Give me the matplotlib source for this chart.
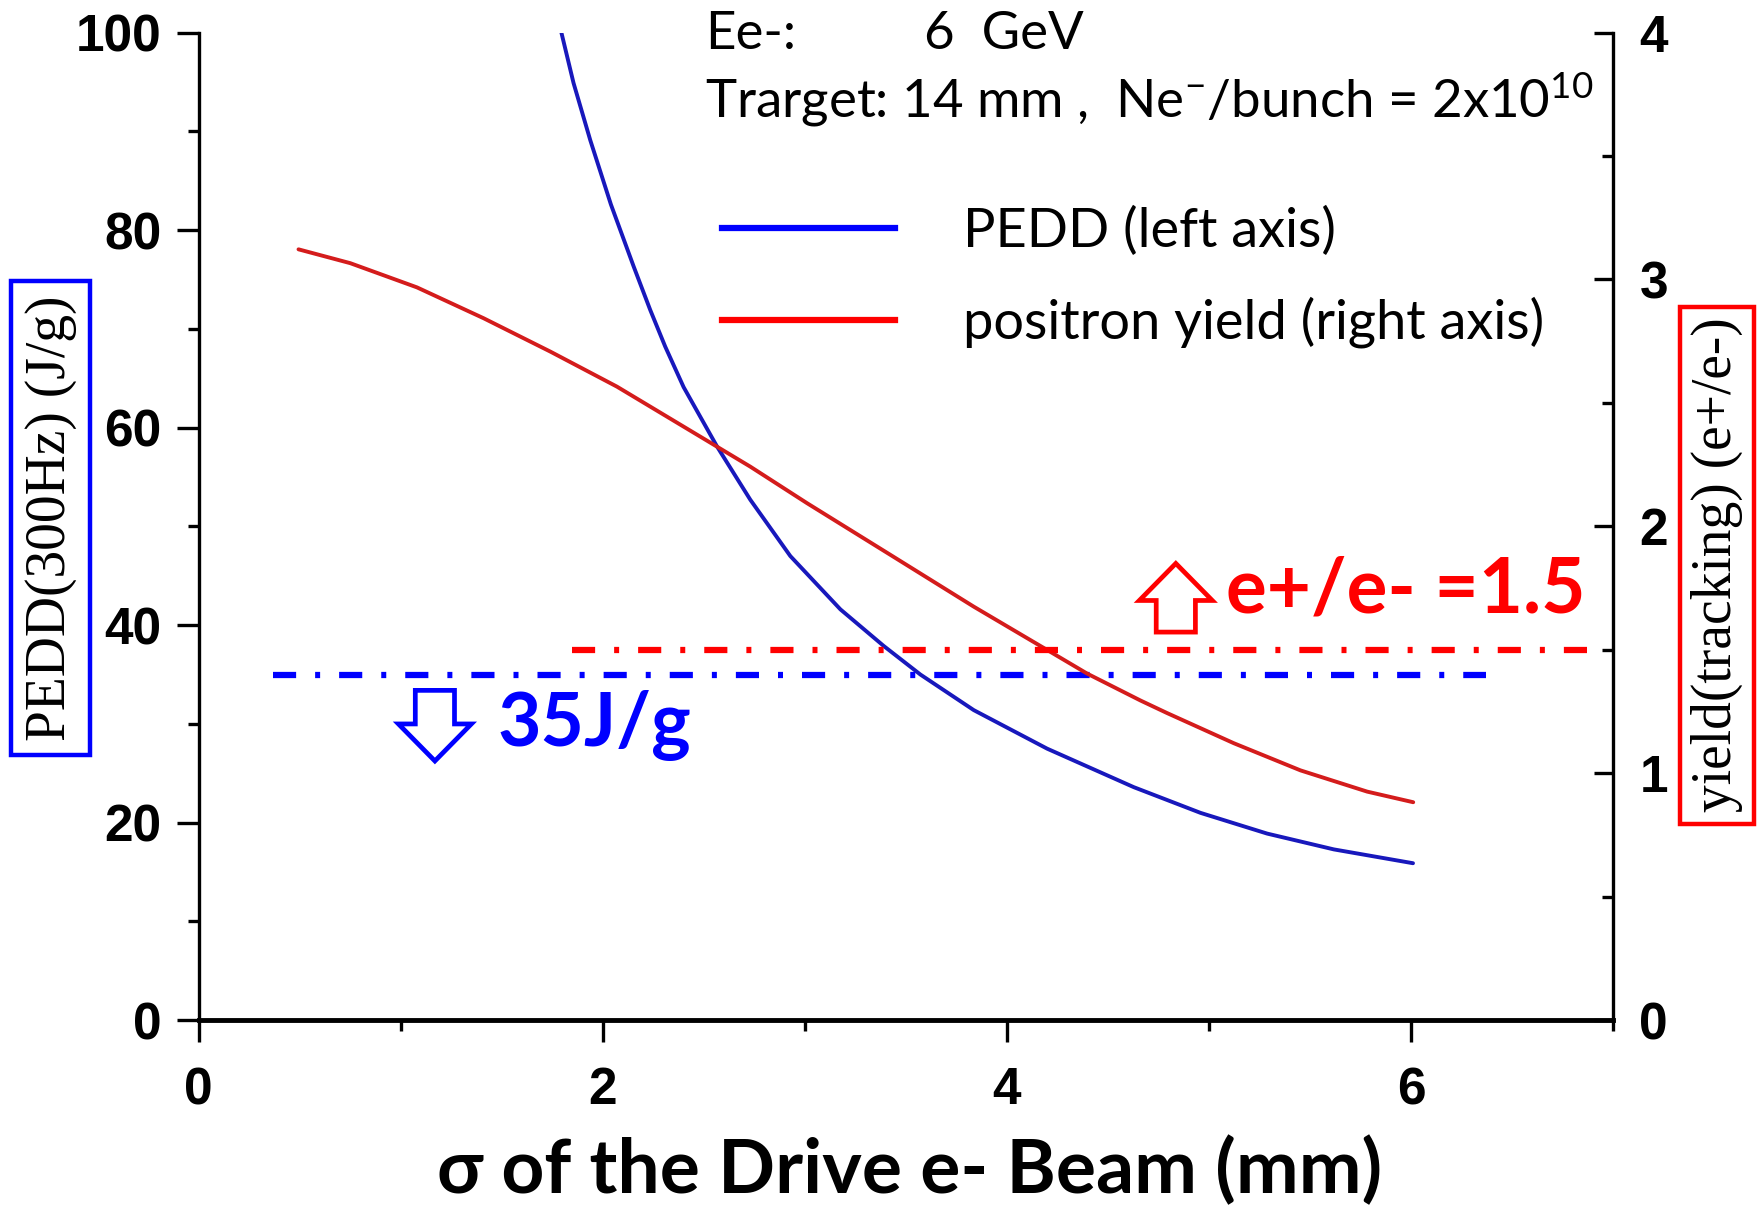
import matplotlib.pyplot as plt
from matplotlib import font_manager
from matplotlib.patches import FancyArrow
from matplotlib.lines import Line2D

# PEDD (left axis) vs beam sigma
sigma_pedd = [1.795, 1.855, 1.938, 2.04, 2.153, 2.235, 2.309, 2.40, 2.565, 2.73,
              2.928, 3.176, 3.39, 3.572, 3.836, 4.199, 4.628, 4.958, 5.288, 5.618, 6.01]
pedd = [100.0, 94.9, 89.1, 82.6, 76.3, 71.9, 68.2, 64.1, 58.1, 52.7,
        47.0, 41.6, 37.9, 35.0, 31.4, 27.5, 23.6, 21.0, 18.9, 17.3, 15.9]

# positron yield (right axis) vs beam sigma
sigma_yield = [0.494, 0.75, 1.08, 1.41, 1.74, 2.07, 2.40, 2.565, 2.73, 3.011,
               3.423, 3.836, 4.182, 4.397, 4.661, 4.793, 5.123, 5.453, 5.783, 6.011]
pos_yield = [3.122, 3.066, 2.968, 2.843, 2.708, 2.566, 2.404, 2.323, 2.242, 2.094,
             1.885, 1.675, 1.508, 1.404, 1.295, 1.244, 1.122, 1.012, 0.926, 0.883]

# limits
pedd_limit = 35
pedd_limit_x = [0.37, 6.37]
yield_limit = 1.5
yield_limit_x = [1.85, 6.88]

x_ticks = [0, 2, 4, 6]
x_minor = [1, 3, 5, 7]
left_ticks = [0, 20, 40, 60, 80, 100]
left_minor = [10, 30, 50, 70, 90]
right_ticks = [0, 1, 2, 3, 4]
right_minor = [0.5, 1.5, 2.5, 3.5]

names = {f.name for f in font_manager.fontManager.ttflist}
tick_font = 'Liberation Sans' if 'Liberation Sans' in names else 'DejaVu Sans'
cal = ['Lato', 'DejaVu Sans']
serif = 'Liberation Serif'

plt.rcParams['mathtext.fontset'] = 'custom'
plt.rcParams['mathtext.rm'] = 'Lato'
plt.rcParams['mathtext.it'] = 'Lato:italic'
plt.rcParams['mathtext.bf'] = 'Lato:bold'

BLUE_LINE = '#1818bc'
RED_LINE = '#d41c1c'
BLUE = '#0000ff'
RED = '#ff0000'

fig = plt.figure(figsize=(17.6, 12.09), dpi=100)
ax = fig.add_axes([0.1129, 0.1561, 0.8036, 0.8170])
ax2 = ax.twinx()

ax.set_xlim(0, 7)
ax.set_ylim(0, 100)
ax2.set_ylim(0, 4)

ax.plot(sigma_pedd, pedd, color=BLUE_LINE, lw=2.8, solid_capstyle='round')
ax2.plot(sigma_yield, pos_yield, color=RED_LINE, lw=2.8, solid_capstyle='round')

dash = (0, (3.7, 3.04, 0.8, 3.04))
ax.plot(pedd_limit_x, [pedd_limit, pedd_limit], color=BLUE, lw=4.5, linestyle=dash)
ax2.plot(yield_limit_x, [yield_limit, yield_limit], color=RED, lw=4.5, linestyle=dash)

# hollow block arrows
ax.add_patch(FancyArrow(1.169, 33.4, 0, -7.15, width=0.194, head_width=0.361,
                        head_length=3.75, length_includes_head=True,
                        fill=False, ec=BLUE, lw=3.4))
ax.add_patch(FancyArrow(4.836, 39.3, 0, 6.95, width=0.194, head_width=0.361,
                        head_length=3.75, length_includes_head=True,
                        fill=False, ec=RED, lw=3.4))
ax.text(1.477, 27.8, '35J/g', color=BLUE, fontsize=54, fontweight='bold',
        family=cal, va='baseline', ha='left')
ax.text(5.086, 41.3, 'e+/e- =1.5', color=RED, fontsize=55, fontweight='bold',
        family=cal, va='baseline', ha='left')

# axes styling
ax.spines['top'].set_visible(False)
ax2.spines['top'].set_visible(False)
ax.spines['left'].set_linewidth(2.4)
ax.spines['bottom'].set_linewidth(3.5)
ax2.spines['right'].set_linewidth(2.4)
ax2.spines['left'].set_visible(False)
ax2.spines['bottom'].set_visible(False)

ax.set_xticks(x_ticks)
ax.set_xticks(x_minor, minor=True)
ax.set_yticks(left_ticks)
ax.set_yticks(left_minor, minor=True)
ax2.set_yticks(right_ticks)
ax2.set_yticks(right_minor, minor=True)

ax.tick_params(axis='both', which='major', direction='out', length=16, width=2.4)
ax.tick_params(axis='both', which='minor', direction='out', length=8, width=2.4)
ax.tick_params(axis='y', which='major', pad=11)
ax.tick_params(axis='x', which='major', pad=17)
ax2.tick_params(axis='y', which='major', direction='in', length=14, width=2.4, pad=19)
ax2.tick_params(axis='y', which='minor', direction='in', length=8, width=2.4)

for lab in ax.get_xticklabels() + ax.get_yticklabels() + ax2.get_yticklabels():
    lab.set_fontfamily(tick_font)
    lab.set_fontweight('bold')
    lab.set_fontsize(37)

# axis titles in boxes
fig.text(0.0287, 0.5716, 'PEDD(300Hz) (J/g)', rotation=90, family=serif,
         fontsize=40, ha='center', va='center',
         bbox=dict(boxstyle='square,pad=0.25', fc='none', ec=BLUE, lw=3.2))
fig.text(0.9755, 0.5326, 'yield(tracking) (e+/e-)', rotation=90, family=serif,
         fontsize=40, ha='center', va='center',
         bbox=dict(boxstyle='square,pad=0.2', fc='none', ec=RED, lw=3.2))
fig.text(0.5166, 0.0316, '\u03c3 of the Drive e- Beam (mm)', family=cal,
         fontsize=54, fontweight='bold', ha='center', va='center')

# header text
fig.text(0.4006, 0.9591, 'Ee-:', family=cal, fontsize=38, va='baseline')
fig.text(0.5248, 0.9591, '6  GeV', family=cal, fontsize=38, va='baseline')
fig.text(0.4006, 0.9025, r'Trarget: 14 mm ,  Ne$^{-}$/bunch = 2x10$^{10}$',
         family=cal, fontsize=38, va='baseline')

handles = [Line2D([], [], color=BLUE, lw=4.5), Line2D([], [], color=RED, lw=4.5)]
leg = ax2.legend(handles, ['PEDD (left axis)', 'positron yield (right axis)'],
                 loc='upper left', bbox_to_anchor=(0.41, 0.830),
                 bbox_transform=fig.transFigure, frameon=False,
                 handlelength=3.2, handletextpad=1.25, labelspacing=0.75,
                 borderpad=0, borderaxespad=0, prop={'family': cal, 'size': 39})

fig.savefig('out.png', dpi=100)
